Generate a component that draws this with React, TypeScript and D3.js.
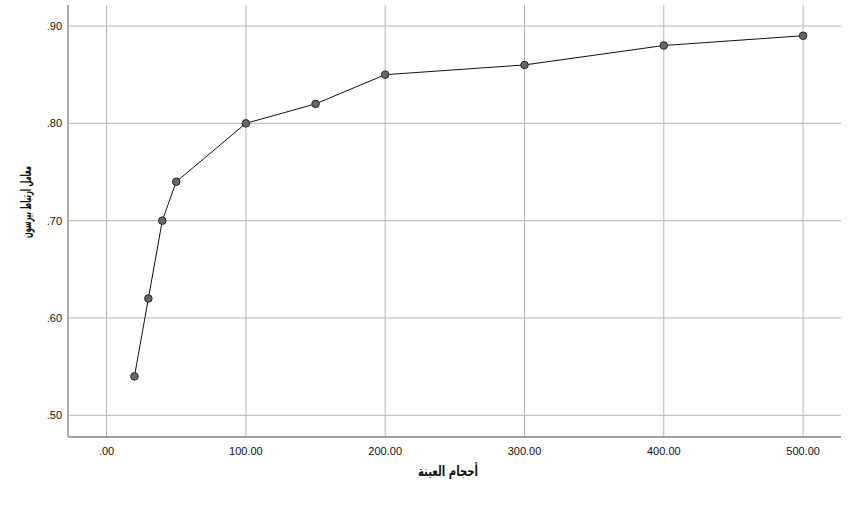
import React from "react";
import * as d3 from "d3";

const sampleSizes = [20, 30, 40, 50, 100, 150, 200, 300, 400, 500];
const pearsonR = [0.54, 0.62, 0.7, 0.74, 0.8, 0.82, 0.85, 0.86, 0.88, 0.89];
const xTicks = [0, 100, 200, 300, 400, 500];
const yTicks = [0.5, 0.6, 0.7, 0.8, 0.9];
const xTitle = "أحجام العينة";
const yTitle = "معامل ارتباط بيرسون";

const W = 850;
const H = 526;
const left = 68;
const right = 841;
const top = 5;
const bottom = 437;

export default function App() {
  const x = d3.scaleLinear().domain([-27.7, 527.2]).range([left, right]);
  const y = d3.scaleLinear().domain([0.4777, 0.9216]).range([bottom, top]);
  const fmtX = (v: number) => (v === 0 ? ".00" : d3.format(".2f")(v));
  const fmtY = (v: number) => d3.format(".2f")(v).replace(/^0/, "");
  const pts = sampleSizes.map((s, i) => [s, pearsonR[i]] as [number, number]);
  const line = d3
    .line<[number, number]>()
    .x((d) => x(d[0]))
    .y((d) => y(d[1]));
  const titleFont = "'DejaVu Sans Condensed', 'DejaVu Sans', sans-serif";
  return (
    <svg
      width={W}
      height={H}
      style={{ position: "absolute", left: 0, top: 0, background: "#fff" }}
      fontFamily="'Liberation Sans', Arial, sans-serif"
    >
      {xTicks.map((t) => (
        <line key={"gx" + t} x1={x(t)} x2={x(t)} y1={top} y2={bottom} stroke="#b4b4b4" strokeWidth={1} />
      ))}
      {yTicks.map((t) => (
        <line key={"gy" + t} x1={left} x2={right} y1={y(t)} y2={y(t)} stroke="#b4b4b4" strokeWidth={1} />
      ))}
      <line x1={left} x2={left} y1={top} y2={bottom} stroke="#808080" strokeWidth={1.3} />
      <line x1={left} x2={right} y1={bottom} y2={bottom} stroke="#808080" strokeWidth={1.3} />
      {xTicks.map((t) => (
        <text key={"tx" + t} x={x(t)} y={bottom + 18} textAnchor="middle" fontSize={11} fill="#111">
          {fmtX(t)}
        </text>
      ))}
      {yTicks.map((t) => (
        <text key={"ty" + t} x={left - 6} y={y(t) + 4} textAnchor="end" fontSize={11} fill="#111">
          {fmtY(t)}
        </text>
      ))}
      <path d={line(pts) || ""} fill="none" stroke="#111" strokeWidth={1} />
      {pts.map((p, i) => (
        <circle key={i} cx={x(p[0])} cy={y(p[1])} r={3.8} fill="#666" stroke="#2a2a2a" strokeWidth={1} />
      ))}
      <text
        x={448}
        y={476}
        textAnchor="middle"
        fontSize={14}
        fontWeight="bold"
        fontFamily={titleFont}
        direction="rtl"
        textLength={60}
        lengthAdjust="spacingAndGlyphs"
        fill="#111"
      >
        {xTitle}
      </text>
      <text
        transform={`translate(31,202) rotate(-90)`}
        textAnchor="middle"
        fontSize={14}
        fontWeight="bold"
        fontFamily={titleFont}
        direction="rtl"
        textLength={72}
        lengthAdjust="spacingAndGlyphs"
        fill="#111"
      >
        {yTitle}
      </text>
    </svg>
  );
}
